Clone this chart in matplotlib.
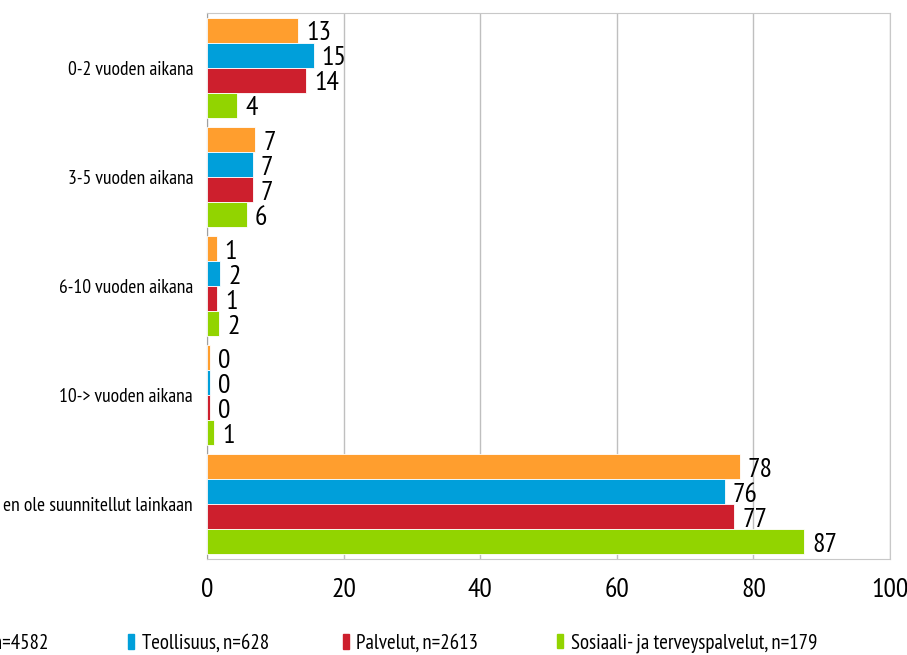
import matplotlib
matplotlib.use("Agg")
import matplotlib.pyplot as plt
from matplotlib.patches import Patch

FONT = ["PT Sans Narrow", "DejaVu Sans"]

categories = ["0-2 vuoden aikana", "3-5 vuoden aikana", "6-10 vuoden aikana",
              "10-> vuoden aikana", "en ole suunnitellut lainkaan"]
series = ["Kaikki, n=4582", "Teollisuus, n=628", "Palvelut, n=2613",
          "Sosiaali- ja terveyspalvelut, n=179"]
colors = ["#FF9E2E", "#009FDA", "#CD1F2D", "#92D400"]
values = [
    [13.3, 7.0, 1.4, 0.45, 78.0],   # Kaikki
    [15.6, 6.7, 1.9, 0.4, 75.8],    # Teollisuus
    [14.5, 6.7, 1.45, 0.45, 77.2],  # Palvelut
    [4.4, 5.8, 1.8, 1.0, 87.4],     # Sosiaali- ja terveyspalvelut
]
labels = [
    [13, 7, 1, 0, 78],
    [15, 7, 2, 0, 76],
    [14, 7, 1, 0, 77],
    [4, 6, 2, 1, 87],
]

plt.rcParams["font.family"] = FONT

fig = plt.figure(figsize=(9.07, 6.55), dpi=100)
ax = fig.add_axes([207 / 907, 1 - 559 / 655, (890 - 207) / 907, (559 - 13) / 655])

bar_h = 0.229
n = len(series)
for i, (name, col) in enumerate(zip(series, colors)):
    ys = [k + (i - (n - 1) / 2) * bar_h for k in range(len(categories))]
    bars = ax.barh(ys, values[i], height=bar_h, color=col, edgecolor="white",
                   linewidth=0.6, zorder=3)
    for b, lab in zip(bars, labels[i]):
        ax.text(b.get_width() + 1.2, b.get_y() + b.get_height() / 2 + 0.03, str(lab),
                va="center", ha="left", fontsize=20, zorder=4)

ax.set_ylim(len(categories) - 0.5, -0.5)
ax.set_xlim(0, 100)
ax.set_xticks(range(0, 101, 20))
ax.set_yticks(range(len(categories)))
ax.set_yticklabels(categories, fontsize=14)
ax.tick_params(axis="y", length=0, pad=10)
ax.tick_params(axis="x", length=0, pad=14, labelsize=20)
ax.grid(axis="x", color="#BFBFBF", linewidth=1, zorder=0)
for s in ax.spines.values():
    s.set_color("#C8C8C8")
ax.spines["left"].set_color("#A0A0A0")

# legend along the bottom; the first entry runs off the left edge as in the original
leg_x = [-72, 128, 342.5, 557]
for x, name, col in zip(leg_x, series, colors):
    fig.legend([Patch(color=col)], [name], loc="center left",
               bbox_to_anchor=(x / 907, 1 - 643 / 655),
               frameon=False, prop={"size": 15},
               handlelength=0.3, handleheight=0.7, handletextpad=0.35,
               borderaxespad=0, borderpad=0)

fig.savefig("out.png", dpi=100)
